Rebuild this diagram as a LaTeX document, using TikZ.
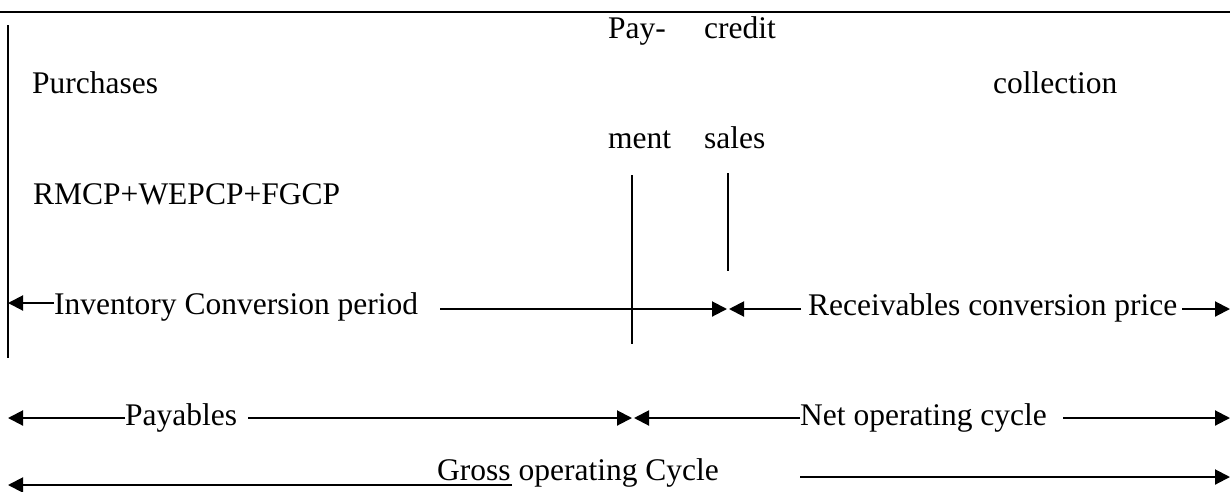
\documentclass[tikz,border=0pt]{standalone}
\usepackage{fontspec}
\setmainfont{Liberation Serif}
\usetikzlibrary{arrows.meta}
\tikzset{
  lbl/.style={anchor=base west, inner sep=0pt, font=\fontsize{31.5}{36}\selectfont},
  rule/.style={line width=2pt},
  arr/.style={line width=2pt, -{Triangle[length=15pt,width=15pt]}}
}
\begin{document}
\begin{tikzpicture}[x=1pt,y=-1pt]
\useasboundingbox (0,0) rectangle (1230,491);

% frame rules
\coordinate (topL) at (0,12);
\coordinate (topR) at (1230,12);
\draw[rule] (topL) -- (topR);
\coordinate (leftT) at (8,25);
\coordinate (leftB) at (8,358);
\draw[rule] (leftT) -- (leftB);

% labels above the time line
\node[lbl] (purch) at (32,93) {Purchases};
\node[lbl] (pay)   at (608,38) {Pay-};
\node[lbl] (ment)  at (608,148) {ment};
\node[lbl] (cred)  at (704,38) {credit};
\node[lbl] (sales) at (704,148) {sales};
\node[lbl] (coll)  at (993,93) {collection};
\node[lbl] (rmcp)  at (33,204) {RMCP+WEPCP+FGCP};

% event markers
\coordinate (payT) at (632,175);
\coordinate (payB) at (632,344);
\draw[rule] (payT) -- (payB);
\coordinate (saleT) at (728,173);
\coordinate (saleB) at (728,271);
\draw[rule] (saleT) -- (saleB);

% row 1: inventory and receivables conversion
\node[lbl] (icp) at (54,314) {Inventory Conversion period};
\coordinate (icpA) at (54,303);
\coordinate (icpL) at (8,303);
\draw[arr] (icpA) -- (icpL);
\coordinate (icpB) at (440,309);
\coordinate (icpR) at (727,309);
\draw[arr] (icpB) -- (icpR);
\node[lbl] (rcp) at (808,315) {Receivables conversion price};
\coordinate (rcpA) at (801,309);
\coordinate (rcpL) at (729,309);
\draw[arr] (rcpA) -- (rcpL);
\coordinate (rcpB) at (1182,309);
\coordinate (rcpR) at (1230,309);
\draw[arr] (rcpB) -- (rcpR);

% row 2: payables and net operating cycle
\node[lbl] (payb) at (125,425) {Payables};
\coordinate (paybA) at (125,418);
\coordinate (paybL) at (8,418);
\draw[arr] (paybA) -- (paybL);
\coordinate (paybB) at (248,418);
\coordinate (paybR) at (632,418);
\draw[arr] (paybB) -- (paybR);
\node[lbl] (noc) at (800,425) {Net operating cycle};
\coordinate (nocA) at (800,418);
\coordinate (nocL) at (634,418);
\draw[arr] (nocA) -- (nocL);
\coordinate (nocB) at (1063,418);
\coordinate (nocR) at (1230,418);
\draw[arr] (nocB) -- (nocR);

% row 3: gross operating cycle
\node[lbl] (goc) at (437,480) {Gross operating Cycle};
\coordinate (gocA) at (512,485);
\coordinate (gocL) at (8,485);
\draw[arr] (gocA) -- (gocL);
\coordinate (gocB) at (800,477);
\coordinate (gocR) at (1230,477);
\draw[arr] (gocB) -- (gocR);
\end{tikzpicture}
\end{document}
